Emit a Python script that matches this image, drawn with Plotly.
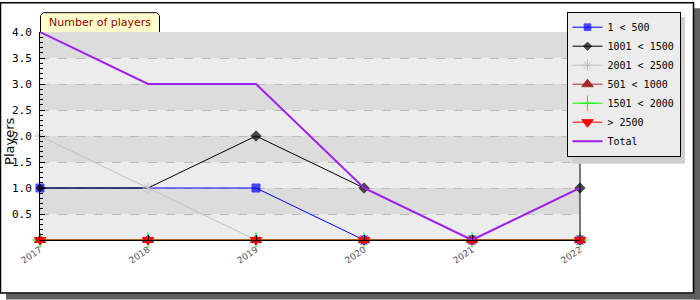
import plotly.graph_objects as go

years = ["2017", "2018", "2019", "2020", "2021", "2022"]
s_1_500 = [1, 1, 1, 0, 0, 0]
s_1001_1500 = [1, 1, 2, 1, 0, 1]
s_2001_2500 = [2, 1, 0, 0, 0, 0]
s_501_1000 = [0, 0, 0, 0, 0, 0]
s_1501_2000 = [0, 0, 0, 0, 0, 0]
s_gt_2500 = [0, 0, 0, 0, 0, 0]
total = [4, 3, 3, 1, 0, 1]
y_ticks = [0.5, 1.0, 1.5, 2.0, 2.5, 3.0, 3.5, 4.0]
y_tick_text = ["0.5", "1.0", "1.5", "2.0", "2.5", "3.0", "3.5", "4.0"]

W, H = 700, 300
L, R, T, B = 40, 120, 30, 60
PW, PH = W - L - R, H - T - B


def px(x):
    return (x - L) / PW


def py(y):
    return (H - B - y) / PH


mono = "DejaVu Sans Mono"
sans = "DejaVu Sans"

fig = go.Figure()

series = [
    ("1 &lt; 500", s_1_500, "#0000ff", "square", 8, 1, [8, 0, 8, 8, 8, 8]),
    ("1001 &lt; 1500", s_1001_1500, "#000000", "diamond", 8, 1, [6, 0, 8, 8, 8, 8]),
    ("2001 &lt; 2500", s_2001_2500, "#c0c0c0", "asterisk-open", 9, 1, None),
    ("501 &lt; 1000", s_501_1000, "#a52a2a", "triangle-up", 10, 1, None),
    ("1501 &lt; 2000", s_1501_2000, "#00ff00", "cross-thin-open", 11, 1, None),
    ("&gt; 2500", s_gt_2500, "#ff0000", "triangle-down", 10, 1, None),
]
for name, vals, col, sym, size, lw, sizes in series:
    fig.add_trace(go.Scatter(
        x=years, y=vals, name=name, mode="lines+markers",
        line=dict(color=col, width=lw),
        marker=dict(symbol=sym, size=sizes if sizes else size, color=col,
                    line=dict(color=col, width=1)),
        cliponaxis=False,
    ))
fig.add_trace(go.Scatter(
    x=years, y=total, name="Total", mode="lines",
    line=dict(color="#a020f0", width=2), cliponaxis=False,
))

shapes = []
# outer shadow strips
shapes.append(dict(type="rect", xref="paper", yref="paper", layer="below",
                   x0=px(694), x1=px(700), y0=py(6), y1=py(300),
                   fillcolor="#606060", line=dict(width=0)))
shapes.append(dict(type="rect", xref="paper", yref="paper", layer="below",
                   x0=px(6), x1=px(700), y0=py(294), y1=py(300),
                   fillcolor="#606060", line=dict(width=0)))
# outer frame
shapes.append(dict(type="rect", xref="paper", yref="paper", layer="below",
                   x0=px(0.5), x1=px(693.5), y0=py(0.5), y1=py(293.5),
                   fillcolor="rgba(0,0,0,0)", line=dict(color="black", width=1.5)))
# alternating bands
for i in range(8):
    lo = i * 0.5
    shapes.append(dict(type="rect", xref="paper", yref="y", layer="below",
                       x0=0, x1=1, y0=lo, y1=lo + 0.5,
                       fillcolor="#dcdcdc" if i % 2 == 1 else "#ececec",
                       line=dict(width=0)))
# right border of plot area
shapes.append(dict(type="line", xref="paper", yref="paper", x0=1, x1=1, y0=0, y1=1,
                   line=dict(color="black", width=1)))
# title tab
x0, x1, y0, y1, c = px(40.5), px(159.5), py(30), py(10.5), 3
path = (f"M {x0},{y0} L {x0},{py(10.5 + c)} L {px(40.5 + c)},{y1} "
        f"L {px(159.5 - c)},{y1} L {x1},{py(10.5 + c)} L {x1},{y0}")
shapes.append(dict(type="path", xref="paper", yref="paper", path=path,
                   fillcolor="#ffffcc", line=dict(color="black", width=1)))
# legend shadow
shapes.append(dict(type="rect", xref="paper", yref="paper", layer="above",
                   x0=px(572), x1=px(685), y0=py(15), y1=py(163),
                   fillcolor="#d0d0d0", line=dict(width=0)))

annotations = [
    dict(text="Number of players", xref="paper", yref="paper", x=px(100), y=py(20.5),
         showarrow=False, font=dict(family=sans, size=11, color="#990000"),
         xanchor="center", yanchor="middle"),
    dict(text="Players", xref="paper", yref="paper", x=px(10), y=py(141),
         showarrow=False, textangle=-90, font=dict(family=sans, size=13, color="black"),
         xanchor="center", yanchor="middle"),
]

fig.update_layout(
    width=W, height=H,
    margin=dict(l=L, r=R, t=T, b=B, pad=0),
    paper_bgcolor="white", plot_bgcolor="rgba(0,0,0,0)",
    shapes=shapes, annotations=annotations,
    showlegend=True,
    legend=dict(x=px(566.5), y=py(9.5), xanchor="left", yanchor="top",
                bgcolor="#ececec", bordercolor="black", borderwidth=1,
                font=dict(family=mono, size=10, color="black"),
                itemwidth=30, tracegroupgap=0),
    xaxis=dict(type="category", range=[0, 5], showgrid=False,
               showline=True, linecolor="black", linewidth=1,
               ticks="inside", ticklen=5, tickcolor="black",
               tickangle=-35, tickfont=dict(family=sans, size=9, color="#555555"),
               zeroline=False),
    yaxis=dict(range=[0, 4], tickvals=y_ticks, ticktext=y_tick_text,
               showgrid=True, gridcolor="#bbbbbb", griddash="dash", gridwidth=1,
               showline=True, linecolor="black", linewidth=1,
               ticks="inside", ticklen=5, tickcolor="black",
               ticklabelstandoff=5,
               tickfont=dict(family=mono, size=11, color="black"),
               zeroline=False,
               minor=dict(dtick=0.1, tick0=0, ticks="inside", ticklen=3,
                          tickcolor="black", showgrid=False)),
)

fig.write_html("out.html")
